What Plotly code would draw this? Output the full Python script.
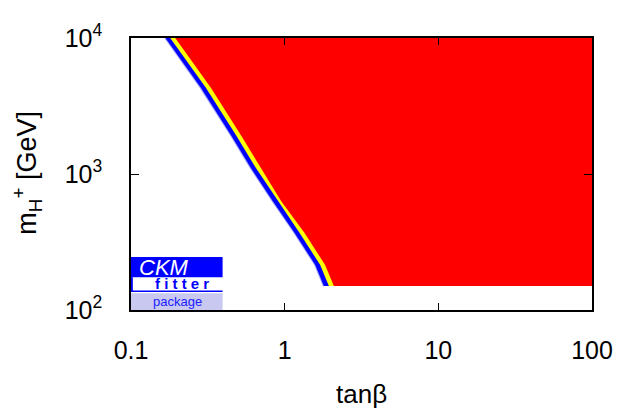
import plotly.graph_objects as go

# ---- data ----
mass = [150, 215, 370, 630, 1100, 1900, 4300, 10000]          # m_H+ [GeV]
tanb_blue = [1.80, 1.58, 1.159, 0.838, 0.605, 0.451, 0.285, 0.1676]   # outer edge of blue band
tanb_yellow = [1.94, 1.70, 1.248, 0.903, 0.652, 0.486, 0.307, 0.180]  # outer edge of yellow band
tanb_red = [2.09, 1.83, 1.344, 0.95, 0.702, 0.523, 0.331, 0.194]     # edge of red excluded region

x_ticks = [0.1, 1, 10, 100]
x_ticktext = ["0.1", "1", "10", "100"]
y_ticks = [100, 1000, 10000]
y_ticktext = ["10<sup>2</sup>", "10<sup>3</sup>", "10<sup>4</sup>"]

TANB_MAX = 100
M_MIN = mass[0]
M_MAX = mass[-1]

FONT = "Liberation Sans, Arial, Helvetica, sans-serif"


def region(edge):
    xs = list(edge) + [TANB_MAX, TANB_MAX, edge[0]]
    ys = list(mass) + [M_MAX, M_MIN, M_MIN]
    return xs, ys


fig = go.Figure()
# soft light-blue fringe on the outer side of the blue band
fig.add_trace(go.Scatter(x=tanb_blue, y=mass, mode="lines",
                         line=dict(width=2, color="#a0a0ff"),
                         hoverinfo="skip", showlegend=False))
for edge, col in [(tanb_blue, "#0000ff"), (tanb_yellow, "#ffff00"), (tanb_red, "#ff0000")]:
    xs, ys = region(edge)
    fig.add_trace(go.Scatter(x=xs, y=ys, mode="lines", fill="toself",
                             fillcolor=col, line=dict(width=0, color=col),
                             hoverinfo="skip", showlegend=False))

fig.update_layout(
    width=617, height=407,
    margin=dict(l=123, r=26, t=20, b=105),
    paper_bgcolor="white", plot_bgcolor="white",
    font=dict(family=FONT, color="black"),
    showlegend=False,
    xaxis=dict(type="log", range=[-1, 2], tickvals=x_ticks, ticktext=x_ticktext,
               ticks="inside", ticklen=7, tickwidth=1, tickcolor="black",
               showline=True, linecolor="black", linewidth=1.5, mirror="ticks",
               showgrid=False, zeroline=False, tickfont=dict(size=25, family=FONT),
               ticklabelstandoff=17, ticklabeloverflow="allow"),
    yaxis=dict(type="log", range=[2, 4], tickvals=y_ticks, ticktext=y_ticktext,
               ticks="inside", ticklen=8, tickwidth=1, tickcolor="black",
               showline=True, linecolor="black", linewidth=1.5, mirror="ticks",
               showgrid=False, zeroline=False, tickfont=dict(size=25, family=FONT),
               ticklabelstandoff=22, ticklabeloverflow="allow"),
)

annotations = [
    dict(text="tanβ", x=0.5, y=-0.31, xref="paper", yref="paper",
         xanchor="center", yanchor="middle", showarrow=False,
         font=dict(size=26, family=FONT, color="black")),
    dict(text="m<sub>H</sub><sup>+</sup> [GeV]", x=-0.226, y=0.504,
         xref="paper", yref="paper", xanchor="center", yanchor="middle",
         textangle=-90, showarrow=False, font=dict(size=27, family=FONT, color="black")),
    dict(text="<i>CKM</i>", x=0.0128, y=0.158, xref="paper", yref="paper",
         xanchor="left", yanchor="middle", showarrow=False,
         font=dict(size=22, family=FONT, color="white")),
    dict(text="<b>f\u00a0i\u00a0t\u00a0t\u00a0e\u00a0r</b>", x=0.111, y=0.096,
         xref="paper", yref="paper", xanchor="center", yanchor="middle",
         showarrow=False, font=dict(size=15, family=FONT, color="#0000ff")),
    dict(text="package", x=0.100, y=0.032, xref="paper", yref="paper",
         xanchor="center", yanchor="middle", showarrow=False,
         font=dict(size=13, family=FONT, color="#2020ff")),
]
fig.update_layout(annotations=annotations)

shapes = [
    dict(type="rect", xref="paper", yref="paper", x0=0.0, x1=0.1987, y0=0.1206, y1=0.195,
         fillcolor="#0000ff", line=dict(width=0)),
    dict(type="rect", xref="paper", yref="paper", x0=0.0, x1=0.004, y0=0.068, y1=0.1206,
         fillcolor="#0000ff", line=dict(width=0)),
    dict(type="rect", xref="paper", yref="paper", x0=0.0, x1=0.1987, y0=0.066, y1=0.0715,
         fillcolor="#0000ff", line=dict(width=0)),
    dict(type="rect", xref="paper", yref="paper", x0=0.0, x1=0.1987, y0=0.0, y1=0.062,
         fillcolor="#c8c8f0", line=dict(width=0)),
]
fig.update_layout(shapes=shapes)

fig.write_html("out.html")
